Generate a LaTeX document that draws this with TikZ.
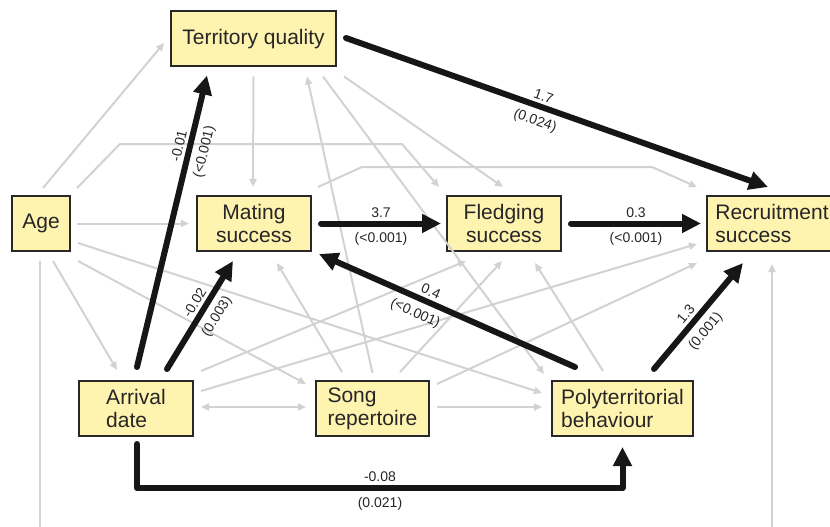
\documentclass[tikz,border=0pt]{standalone}
\usepackage{fontspec}
\setmainfont{Liberation Sans}
\usetikzlibrary{arrows.meta,calc}
\definecolor{boxfill}{RGB}{255,243,176}
\definecolor{boxline}{RGB}{40,40,40}
\definecolor{pathgrey}{RGB}{210,210,210}
\definecolor{sigpath}{RGB}{22,22,22}

\begin{document}
\begin{tikzpicture}[x=1pt,y=-1pt,
  box/.style={draw=boxline,line width=2pt,fill=boxfill,inner sep=0pt,minimum height=55pt,
    font=\fontsize{21}{23}\selectfont,text=black!85},
  nonsig/.style={draw=pathgrey,line width=2pt,-{Triangle[length=8pt,width=7pt]}},
  sig/.style={draw=sigpath,line width=6pt,line cap=round,line join=round,-{Triangle[length=19pt,width=18pt]}},
  coef/.style={sloped,above,inner sep=2pt,outer sep=4pt,font=\fontsize{14}{16}\selectfont,text=black!85},
  pval/.style={sloped,below,inner sep=2pt,outer sep=7pt,font=\fontsize{14}{16}\selectfont,text=black!85}]
  \useasboundingbox (0,0) rectangle (830,527);
  \clip (0,0) rectangle (830,527);

  \node[box,minimum width=165pt]            (terr)   at (253.5,39)  {Territory quality};
  \node[box,minimum width=58pt]             (age)    at (41,223.5)  {Age};
  \node[box,minimum width=114pt,align=center] (mating) at (254,223.5) {Mating\\success};
  \node[box,minimum width=114pt,align=center] (fledg)  at (504,223.5) {Fledging\\success};
  \node[box,minimum width=130pt,align=left]   (recr)   at (772,223.5) {Recruitment\\success};
  \node[box,minimum width=114pt,align=left]   (arriv)  at (136,408.5) {Arrival\\date};
  \node[box,minimum width=113pt,align=left]   (song)   at (372.5,408.5) {Song\\repertoire};
  \node[box,minimum width=141pt,align=left]   (poly)   at (622.5,408.5) {Polyterritorial\\behaviour};

  \coordinate (agebend) at (120,144);
  \coordinate (agerun)  at (402,144);
  \coordinate (matbend) at (362,167);
  \coordinate (matrun)  at (652,167);
  \coordinate (under)   at (400,600);
  \coordinate (lowrun)  at (380,488);

  \draw[nonsig] ($(age.north)+(2,-7)$) -- ($(terr.west)+(-6,4)$);
  \draw[nonsig] ($(age.north east)+(6,-7)$) -- (agebend) -- (agerun) -- ($(fledg.north west)+(-7,-8)$);
  \draw[nonsig] ($(mating.north east)+(6,-8)$) -- (matbend) -- (matrun) -- ($(recr.north west)+(-9,-8)$);
  \draw[nonsig] ($(terr.south)+(0,9)$) -- ($(mating.north)+(-1,-8)$);
  \draw[nonsig] ($(song.north)+(0,-7)$) -- ($(terr.south)+(53.5,9)$);
  \draw[nonsig] ($(terr.south)+(69.5,9)$) -- ($(poly.north west)+(-7,-6)$);
  \draw[nonsig] ($(terr.south east)+(7,9)$) -- ($(fledg.north)+(-1,-8)$);
  \draw[nonsig] ($(age.east)+(6,0)$) -- ($(mating.west)+(-7,0)$);
  \draw[nonsig] ($(age.south)+(-1,9)$) |- (under) -| ($(recr.south)+(0,12)$);
  \draw[nonsig] ($(age.south)+(12,9)$) -- ($(arriv.north)+(-19,-10)$);
  \draw[nonsig] ($(age.south east)+(7,9)$) -- ($(song.north west)+(-9,4)$);
  \draw[nonsig] ($(age.east)+(7,19.5)$) -- ($(poly.west)+(-9,-15.5)$);
  \draw[nonsig,{Triangle[length=8pt,width=7pt]}-{Triangle[length=8pt,width=7pt]}]
    ($(arriv.east)+(7,-1.5)$) -- ($(song.west)+(-9,-1.5)$);
  \draw[nonsig] ($(arriv.north east)+(7,-9)$) -- ($(fledg.south west)+(20,9)$);
  \draw[nonsig] ($(arriv.east)+(7,-17.5)$) -- ($(recr.south west)+(-9,-8)$);
  \draw[nonsig] ($(song.north)+(-30.5,-8)$) -- ($(mating.south)+(23,11)$);
  \draw[nonsig] ($(song.north)+(27.5,-8)$) -- ($(fledg.south)+(-2,9)$);
  \draw[nonsig] ($(song.north east)+(7,4)$) -- ($(recr.south west)+(-9,11)$);
  \draw[nonsig] ($(song.east)+(7,-1.5)$) -- ($(poly.west)+(-9,-1.5)$);
  \draw[nonsig] ($(poly.north)+(-19.5,-9)$) -- ($(fledg.south)+(31,11)$);

  \draw[sig] ($(arriv.north)+(1,-13)$) -- node[coef,pos=0.75] {-0.01} node[pval,pos=0.75] {(<0.001)} ($(terr.south)+(-46.5,8)$);
  \draw[sig] ($(arriv.north)+(31,-11)$) -- node[coef,pos=0.56] {-0.02} node[pval,pos=0.56] {(0.003)} ($(mating.south)+(-21,9)$);
  \draw[sig] ($(terr.east)+(9,-1)$) -- node[coef,pos=0.46] {1.7} node[pval,pos=0.46] {(0.024)} ($(recr.north)+(-4,-8)$);
  \draw[sig] ($(mating.east)+(9,0)$) -- node[coef] {3.7} node[pval] {(<0.001)} ($(fledg.west)+(-5,0)$);
  \draw[sig] ($(fledg.east)+(9,0)$) -- node[coef] {0.3} node[pval] {(<0.001)} ($(recr.west)+(-5,0)$);
  \draw[sig] ($(poly.north)+(-47.5,-13)$) -- node[coef,pos=0.58] {0.4} node[pval,pos=0.6] {(<0.001)} ($(mating.south east)+(7,2)$);
  \draw[sig] ($(poly.north)+(31.5,-11)$) -- node[coef,pos=0.45] {1.3} node[pval,pos=0.45] {(0.001)} ($(recr.south)+(-29,11)$);
  \draw[sig] ($(arriv.south)+(1,7)$) |- (lowrun) -| node[coef,pos=0] {-0.08} node[pval,pos=0] {(0.021)} ($(poly.south)+(0,10)$);
\end{tikzpicture}
\end{document}
